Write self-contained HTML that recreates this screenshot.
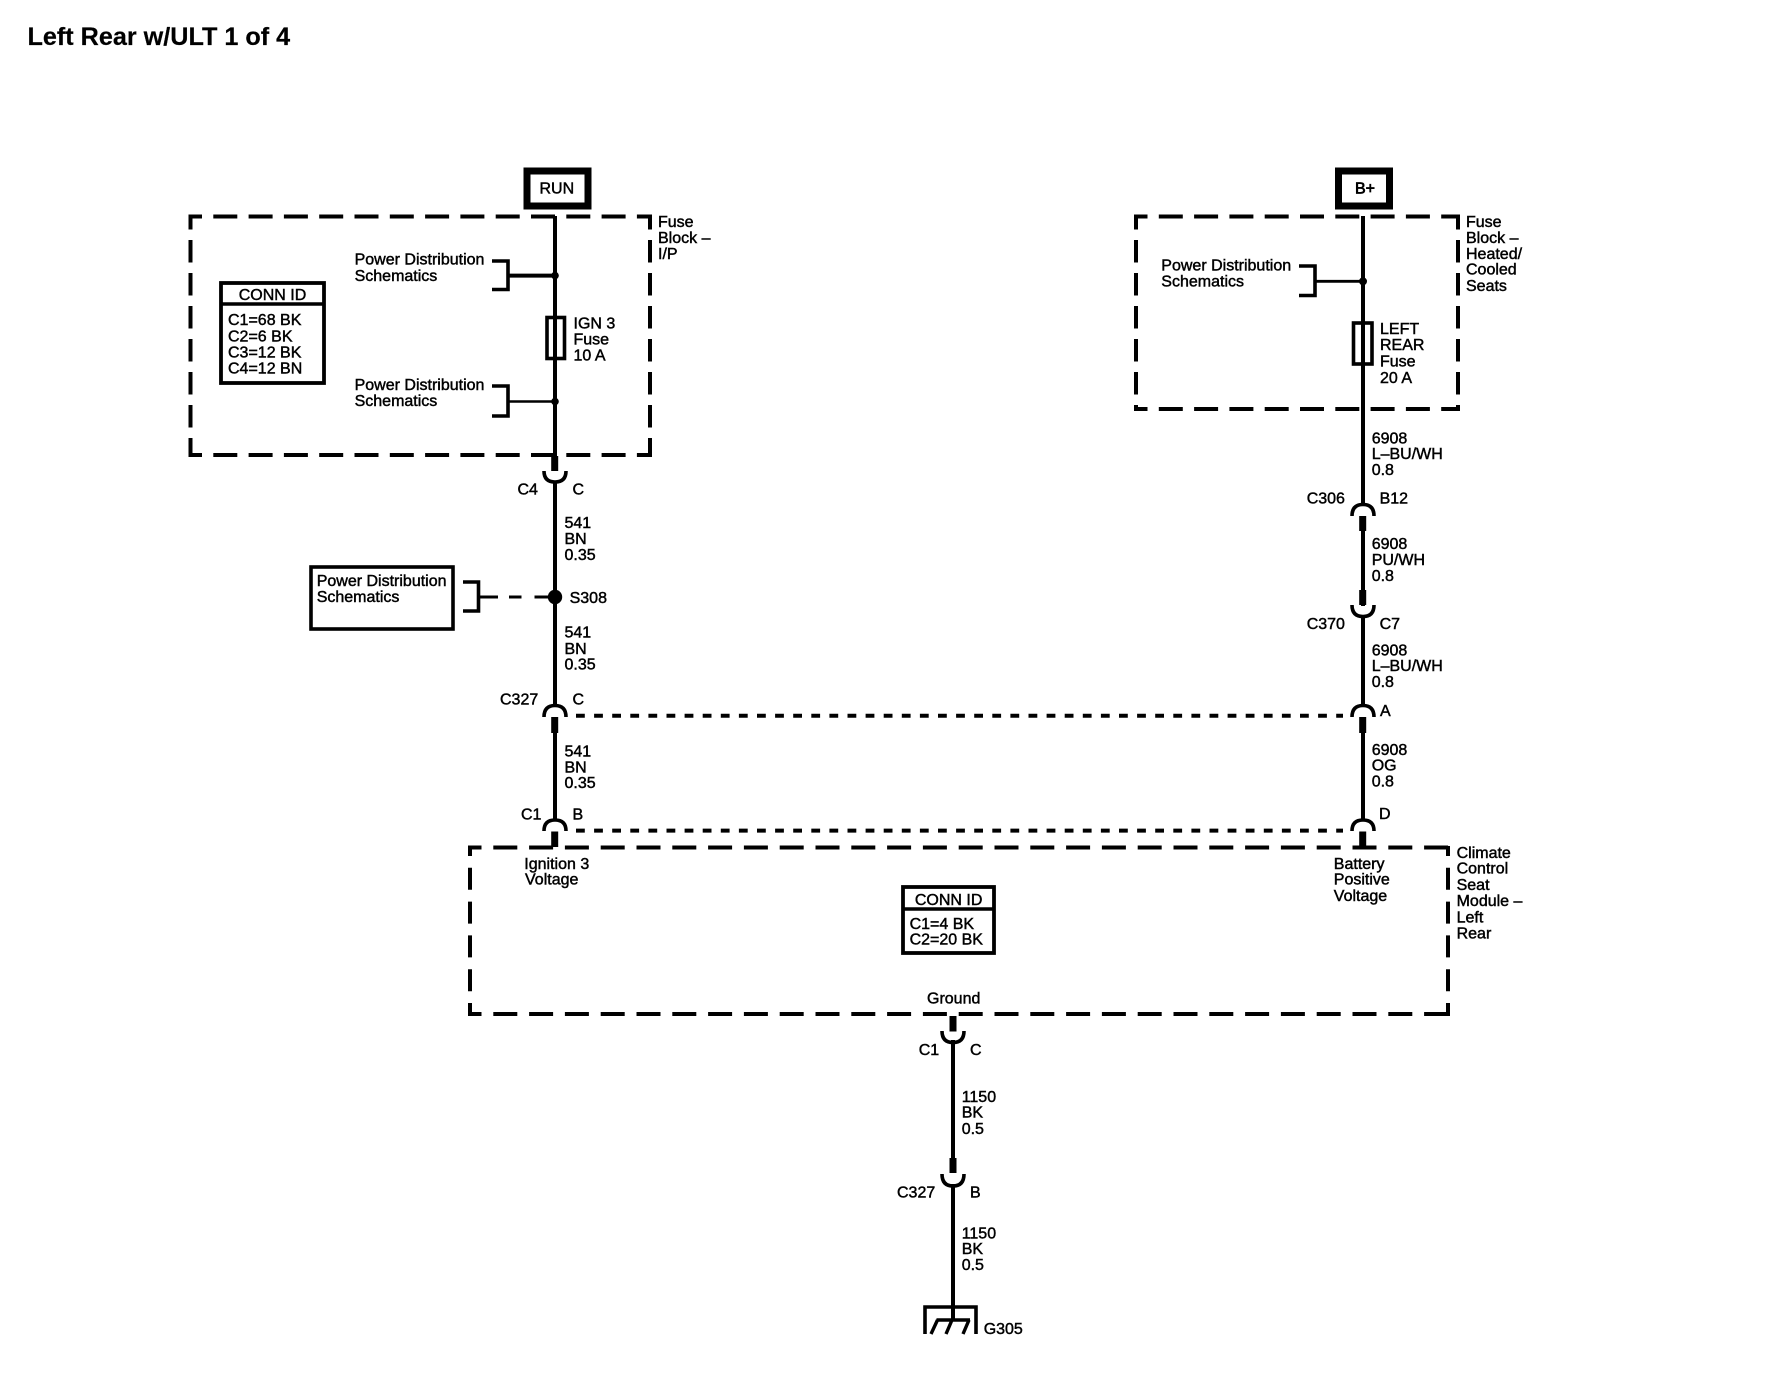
<!DOCTYPE html>
<html><head><meta charset="utf-8"><title>Left Rear w/ULT 1 of 4</title>
<style>
html,body{margin:0;padding:0;background:#fff;width:1774px;height:1376px;overflow:hidden}
svg{display:block}
text{font-family:"Liberation Sans",Arial,sans-serif;font-size:16px;fill:#000;stroke:#000;stroke-width:.45}
.w{fill:none;stroke:#000;stroke-width:4}
.t{fill:none;stroke:#000;stroke-width:7}
.c{fill:none;stroke:#000;stroke-width:3.6}
.d{fill:none;stroke:#000;stroke-width:4}
</style></head><body>
<svg width="1774" height="1376" viewBox="0 0 1774 1376" xmlns="http://www.w3.org/2000/svg">
<rect width="1774" height="1376" fill="#fff"/>
<text x="27.5" y="45" style="font-size:25.2px;font-weight:bold;stroke-width:.2">Left Rear w/ULT 1 of 4</text>

<!-- RUN -->
<rect x="527" y="171" width="61" height="35" fill="#fff" stroke="#000" stroke-width="7"/>
<text x="539.5" y="193.5">RUN</text>
<!-- B+ -->
<rect x="1338.5" y="171" width="51" height="35" fill="#fff" stroke="#000" stroke-width="7"/>
<text x="1355" y="193.5" style="stroke-width:.7">B+</text>

<!-- Fuse Block I/P dashed -->
<path class="d" stroke-dasharray="24 11.3" stroke-dashoffset="10.5" d="M188.5 216.5H652"/>
<path class="d" stroke-dasharray="24 11.3" stroke-dashoffset="10.5" d="M188.5 455H652"/>
<path class="d" stroke-dasharray="22.5 10.5" stroke-dashoffset="9" d="M190.5 216V457"/>
<path class="d" stroke-dasharray="22.5 10.5" stroke-dashoffset="9" d="M650 216V457"/>

<!-- Fuse Block Heated dashed -->
<path class="d" stroke-dasharray="24 11.3" stroke-dashoffset="10.5" d="M1134 216.5H1460"/>
<path class="d" stroke-dasharray="24 11.3" stroke-dashoffset="10.5" d="M1134 409H1460"/>
<path class="d" stroke-dasharray="22.5 10.5" stroke-dashoffset="9" d="M1136 216V411"/>
<path class="d" stroke-dasharray="22.5 10.5" stroke-dashoffset="9" d="M1458 216V411"/>

<!-- Module dashed -->
<path class="d" stroke-dasharray="24 11.8" stroke-dashoffset="10.5" d="M468 847.5H1450"/>
<path class="d" stroke-dasharray="24 11.8" stroke-dashoffset="10.5" d="M468 1014H1450"/>
<path class="d" stroke-dasharray="22 11.8" stroke-dashoffset="12" d="M470 846V1016"/>
<path class="d" stroke-dasharray="22 11.8" stroke-dashoffset="12" d="M1448 846V1016"/>

<!-- Dotted shields -->
<path class="d" stroke-dasharray="8.8 9.3" d="M576 715.8H1343"/>
<path class="d" stroke-dasharray="8.8 9.3" d="M576 830.6H1343"/>

<!-- Left wire -->
<path class="w" d="M555 216V471M555 481V706M555 720V820"/>
<path class="t" d="M554.7 456V471M554.7 717V733M554.7 831.5V847"/>
<path class="c" d="M544 471Q544 482 555 482Q566 482 566 471"/>
<path class="c" d="M544 717Q544 705.5 555 705.5Q566 705.5 566 717"/>
<path class="c" d="M544 831Q544 820 555 820Q566 820 566 831"/>
<!-- Left fuse -->
<rect x="547" y="317.5" width="17.5" height="41" fill="#fff" stroke="#000" stroke-width="3.6"/>
<path class="w" d="M555 316V360"/>
<!-- Left brackets -->
<path class="c" d="M492 261H508V289.5H492"/>
<path class="w" d="M508 275.6H555"/>
<circle cx="555" cy="275.6" r="3.8"/>
<path class="c" d="M492 386H508V416H492"/>
<path class="w" d="M508 401.5H555" style="stroke-width:2.6"/>
<circle cx="555" cy="401.5" r="3.8"/>
<!-- S308 -->
<rect x="311" y="567" width="142" height="62" fill="#fff" stroke="#000" stroke-width="3.6"/>
<path class="c" d="M463 582H478.5V611H463"/>
<path d="M478.5 597H498M509 597H521.5M534.5 597H555" fill="none" stroke="#000" stroke-width="3"/>
<circle cx="555" cy="597" r="7.2"/>

<!-- Right wire -->
<path class="w" d="M1363 216V505M1363 520V606M1363 616V706M1363 720V820"/>
<path class="t" d="M1362.7 516V531M1362.7 590V605M1362.7 717V733M1362.7 831.5V847"/>
<path class="c" d="M1352 516Q1352 504.5 1363 504.5Q1374 504.5 1374 516"/>
<path class="c" d="M1352 605Q1352 616.5 1363 616.5Q1374 616.5 1374 605"/>
<path class="c" d="M1352 717Q1352 705.5 1363 705.5Q1374 705.5 1374 717"/>
<path class="c" d="M1352 831Q1352 820 1363 820Q1374 820 1374 831"/>
<rect x="1353.5" y="323" width="18.5" height="41" fill="#fff" stroke="#000" stroke-width="3.6"/>
<path class="w" d="M1363 321V365"/>
<path class="c" d="M1299 266H1315V295.5H1299"/>
<path class="w" d="M1315 281.3H1363" style="stroke-width:2.8"/>
<circle cx="1363" cy="281.3" r="4"/>

<!-- Ground wire -->
<path class="w" d="M953 1040V1158M953 1184V1320"/>
<path class="t" d="M953 1016V1031.5M953 1158V1173"/>
<path class="c" d="M942 1031Q942 1042.5 953 1042.5Q964 1042.5 964 1031"/>
<path class="c" d="M942 1174Q942 1186 953 1186Q964 1186 964 1174"/>
<path class="c" d="M925 1334V1307H976V1334"/>
<path class="c" d="M936.5 1320H970"/>
<path fill="none" stroke="#000" stroke-width="3.4" d="M937.5 1320L931 1334M952 1320L946 1334M969 1320L963 1334"/>

<!-- CONN ID boxes -->
<rect x="221" y="283" width="103" height="100" fill="#fff" stroke="#000" stroke-width="3.8"/>
<path class="c" d="M221 304H325"/>
<text x="272.5" y="300" text-anchor="middle">CONN ID</text>
<text x="228" y="325">C1=68 BK</text>
<text x="228" y="341.5">C2=6 BK</text>
<text x="228" y="357.6">C3=12 BK</text>
<text x="228" y="373.4">C4=12 BN</text>

<rect x="903" y="887" width="91" height="66" fill="#fff" stroke="#000" stroke-width="3.8"/>
<path class="c" d="M903 909H994"/>
<text x="948.6" y="905" text-anchor="middle">CONN ID</text>
<text x="909.6" y="928.9">C1=4 BK</text>
<text x="909.6" y="944.7">C2=20 BK</text>

<!-- Left labels -->
<text x="354.6" y="264.6">Power Distribution</text>
<text x="354.6" y="281">Schematics</text>
<text x="354.6" y="390">Power Distribution</text>
<text x="354.6" y="406">Schematics</text>
<text x="573.5" y="328.6">IGN 3</text>
<text x="573.5" y="344.5">Fuse</text>
<text x="573.5" y="360.7">10 A</text>
<text x="658" y="227">Fuse</text>
<text x="658" y="243">Block –</text>
<text x="658" y="259">I/P</text>
<text x="517.5" y="494.5">C4</text>
<text x="572.5" y="494.5">C</text>
<text x="564.5" y="528">541</text>
<text x="564.5" y="544">BN</text>
<text x="564.5" y="560">0.35</text>
<text x="316.7" y="586">Power Distribution</text>
<text x="316.7" y="602">Schematics</text>
<text x="569.6" y="603">S308</text>
<text x="564.5" y="637.5">541</text>
<text x="564.5" y="654">BN</text>
<text x="564.5" y="669.6">0.35</text>
<text x="500" y="704.7">C327</text>
<text x="572.5" y="704.7">C</text>
<text x="564.5" y="756.5">541</text>
<text x="564.5" y="772.7">BN</text>
<text x="564.5" y="788">0.35</text>
<text x="521" y="819.6">C1</text>
<text x="572.5" y="819.6">B</text>
<text x="524.3" y="868.8">Ignition 3</text>
<text x="525" y="884.6">Voltage</text>

<!-- Right labels -->
<text x="1161.3" y="270.7">Power Distribution</text>
<text x="1161.3" y="286.5">Schematics</text>
<text x="1380" y="334">LEFT</text>
<text x="1380" y="350">REAR</text>
<text x="1380" y="366.4">Fuse</text>
<text x="1380" y="383">20 A</text>
<text x="1466" y="227">Fuse</text>
<text x="1466" y="243">Block –</text>
<text x="1466" y="259">Heated/</text>
<text x="1466" y="274.7">Cooled</text>
<text x="1466" y="291">Seats</text>
<text x="1371.7" y="443.5">6908</text>
<text x="1371.7" y="459">L–BU/WH</text>
<text x="1371.7" y="475">0.8</text>
<text x="1306.7" y="503.7">C306</text>
<text x="1379.6" y="503.7">B12</text>
<text x="1371.7" y="549">6908</text>
<text x="1371.7" y="565">PU/WH</text>
<text x="1371.7" y="581">0.8</text>
<text x="1306.7" y="629">C370</text>
<text x="1379.6" y="629">C7</text>
<text x="1371.7" y="655.5">6908</text>
<text x="1371.7" y="671">L–BU/WH</text>
<text x="1371.7" y="687">0.8</text>
<text x="1380" y="716">A</text>
<text x="1371.7" y="755">6908</text>
<text x="1371.7" y="770.5">OG</text>
<text x="1371.7" y="786.7">0.8</text>
<text x="1379" y="819">D</text>
<text x="1333.8" y="868.8">Battery</text>
<text x="1333.8" y="884.6">Positive</text>
<text x="1333.8" y="900.8">Voltage</text>
<text x="1456.6" y="857.8">Climate</text>
<text x="1456.6" y="873.6">Control</text>
<text x="1456.6" y="889.8">Seat</text>
<text x="1456.6" y="906">Module –</text>
<text x="1456.6" y="922.3">Left</text>
<text x="1456.6" y="938.5">Rear</text>

<!-- Ground labels -->
<text x="927" y="1003.5">Ground</text>
<text x="918.7" y="1054.8">C1</text>
<text x="970" y="1054.8">C</text>
<text x="961.7" y="1102">1150</text>
<text x="961.7" y="1117.6">BK</text>
<text x="961.7" y="1133.8">0.5</text>
<text x="897" y="1197.4">C327</text>
<text x="970" y="1197.4">B</text>
<text x="961.7" y="1238.7">1150</text>
<text x="961.7" y="1254">BK</text>
<text x="961.7" y="1269.8">0.5</text>
<text x="983.7" y="1334">G305</text>
</svg>
</body></html>
